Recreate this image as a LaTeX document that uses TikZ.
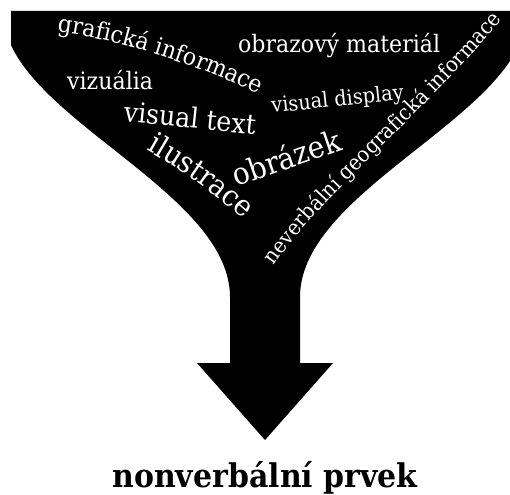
\documentclass[tikz,border=0pt]{standalone}
\usepackage{fontspec}
\setmainfont{DejaVu Serif}[FakeStretch=0.92]
\usetikzlibrary{decorations.text}
\begin{document}
\begin{tikzpicture}[x=1pt,y=-1pt,
  word/.style={text=white, inner sep=0pt, anchor=base west},
  curvy/.style={decorate, decoration={text along path, text color=white, text align=left}}]
\useasboundingbox (0,0) rectangle (510,494);
\clip (0,0) rectangle (510,494);
% funnel arrow
\fill[black] (11,11) -- (519,11) -- (519,45)
  .. controls (480,130) and (300,200) .. (300,297) -- (300,363) -- (333,363)
  -- (265,440) -- (197,363) -- (230,363) -- (230,297)
  .. controls (230,200) and (50,130) .. (11,45) -- cycle;
% straight words
\node[word, font=\fontsize{24}{28}\selectfont] (mat) at (238,53) {obrazový materiál};
\node[word, font=\fontsize{24}{28}\selectfont] (viz) at (67,90) {vizuália};
\node[word, font=\fontsize{27.5}{32}\selectfont, rotate=-6] (vtext) at (123,121) {visual text};
\node[word, font=\fontsize{21}{25}\selectfont, rotate=6] (vdisp) at (272,113) {visual display};
\node[word, font=\fontsize{30.5}{35}\selectfont, rotate=19] (obr) at (236,187) {obrázek};
% curved words
\path[curvy, decoration={text={|\fontsize{24}{28}\selectfont|grafická informace}}]
  (57,32) .. controls (120,40) and (200,65) .. (268,99);
\path[curvy, decoration={text={|\fontsize{29.5}{34}\selectfont|ilustrace}}]
  (146,150) .. controls (185,172) and (225,200) .. (262,237);
\path[curvy, decoration={text={|\fontsize{21.3}{25}\selectfont|neverbální geografická informace}}]
  (274,266) .. controls (330,185) and (420,120) .. (510,10);
% result
\node[font=\bfseries\fontsize{32.6}{38}\selectfont, anchor=base, inner sep=0pt] (res) at (265,487) {nonverbální prvek};
\end{tikzpicture}
\end{document}
